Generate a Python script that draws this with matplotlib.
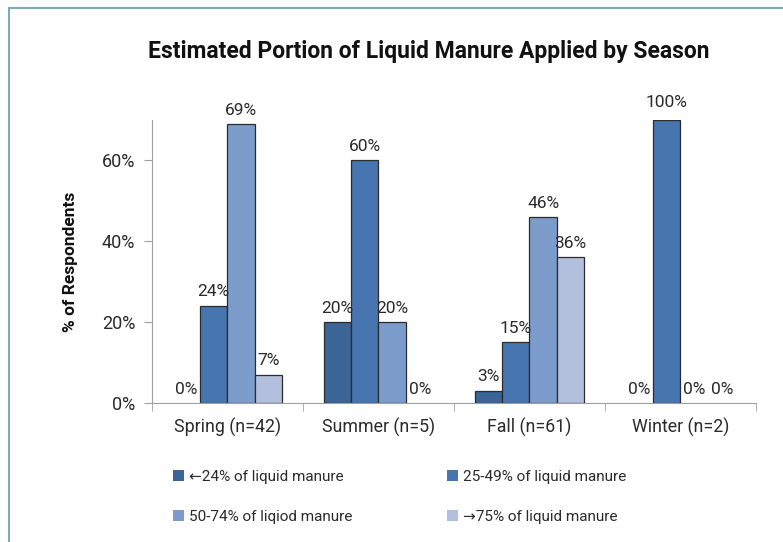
import matplotlib
matplotlib.use("Agg")
import matplotlib.pyplot as plt
import numpy as np
from matplotlib.patches import Rectangle, Patch

plt.rcParams['font.family'] = ['Roboto', 'DejaVu Sans']

# datos
seasons = ["Spring (n=42)", "Summer (n=5)", "Fall (n=61)", "Winter (n=2)"]
series = ["←24% of liquid manure", "25-49% of liquid manure",
          "50-74% of liqiod manure", "→75% of liquid manure"]
valores = [
    [0, 20, 3, 0],      # <24%
    [24, 60, 15, 100],  # 25-49%
    [69, 20, 46, 0],    # 50-74%
    [7, 0, 36, 0],      # >75%
]
colores = ["#3B6497", "#4675AF", "#7C9DCB", "#B3C0DD"]
tope = 70  # el eje corta en 70%, la barra de invierno queda recortada

fig = plt.figure(figsize=(7.83, 5.42), dpi=100)
ax = fig.add_axes([0.1941, 0.2565, 0.7714, 0.5221])

x = np.arange(len(seasons))
w = 0.182
for i, vals in enumerate(valores):
    pos = x + (i - 1.5) * w
    alto = [min(v, tope) for v in vals]
    grosor = [0.9 if v > 0 else 0 for v in vals]
    ax.bar(pos, alto, width=w, color=colores[i], edgecolor="#2b2b2b",
           linewidth=grosor)
    for p, v, a in zip(pos, vals, alto):
        ax.text(p, a + 1.6 + (0.9 if v > tope else 0), f"{v}%", ha="center",
                va="bottom", fontsize=12.5, color="#2a2a2a", clip_on=False)

ax.set_xlim(-0.5, len(seasons) - 0.5)
ax.set_ylim(0, tope)
ax.set_yticks([0, 20, 40, 60])
ax.set_yticklabels(["0%", "20%", "40%", "60%"], fontsize=13, color="#2a2a2a")
ax.set_xticks(x)
ax.set_xticklabels(seasons, fontsize=12.8, color="#2a2a2a")
ax.tick_params(axis="x", which="major", length=0, pad=11)
ax.set_xticks(np.arange(-0.5, len(seasons)), minor=True)
ax.tick_params(axis="x", which="minor", length=6, color="#a0a0a0")
ax.tick_params(axis="y", length=6, color="#a0a0a0", pad=6)
for s in ["top", "right"]:
    ax.spines[s].set_visible(False)
ax.spines["left"].set_color("#a0a0a0")
ax.spines["bottom"].set_color("#a0a0a0")
ax.set_ylabel("% of Respondents", fontsize=12.5, fontweight="bold",
              color="#111111", labelpad=17)

fig.text(0.548, 0.905, "Estimated Portion of Liquid Manure Applied by Season",
         ha="center", va="center", fontsize=16.5, fontweight="bold",
         color="#111111")

# leyenda con cuadrados sin borde, ordenada por filas
orden = [0, 2, 1, 3]
handles = [Patch(facecolor=colores[k], edgecolor="none") for k in orden]
fig.legend(handles, [series[k] for k in orden],
           loc="upper left", bbox_to_anchor=(0.203, 0.158), ncol=2,
           frameon=False, fontsize=11, handlelength=0.75, handleheight=0.75,
           handletextpad=0.3, columnspacing=6.2, labelspacing=1.67,
           labelcolor="#2a2a2a")

# marco de la figura
fig.add_artist(Rectangle((0.011, -0.05), 1.2, 1.035, transform=fig.transFigure,
                         fill=False, edgecolor="#7FA8B8", linewidth=1.5))

fig.savefig("out.png", dpi=100)
